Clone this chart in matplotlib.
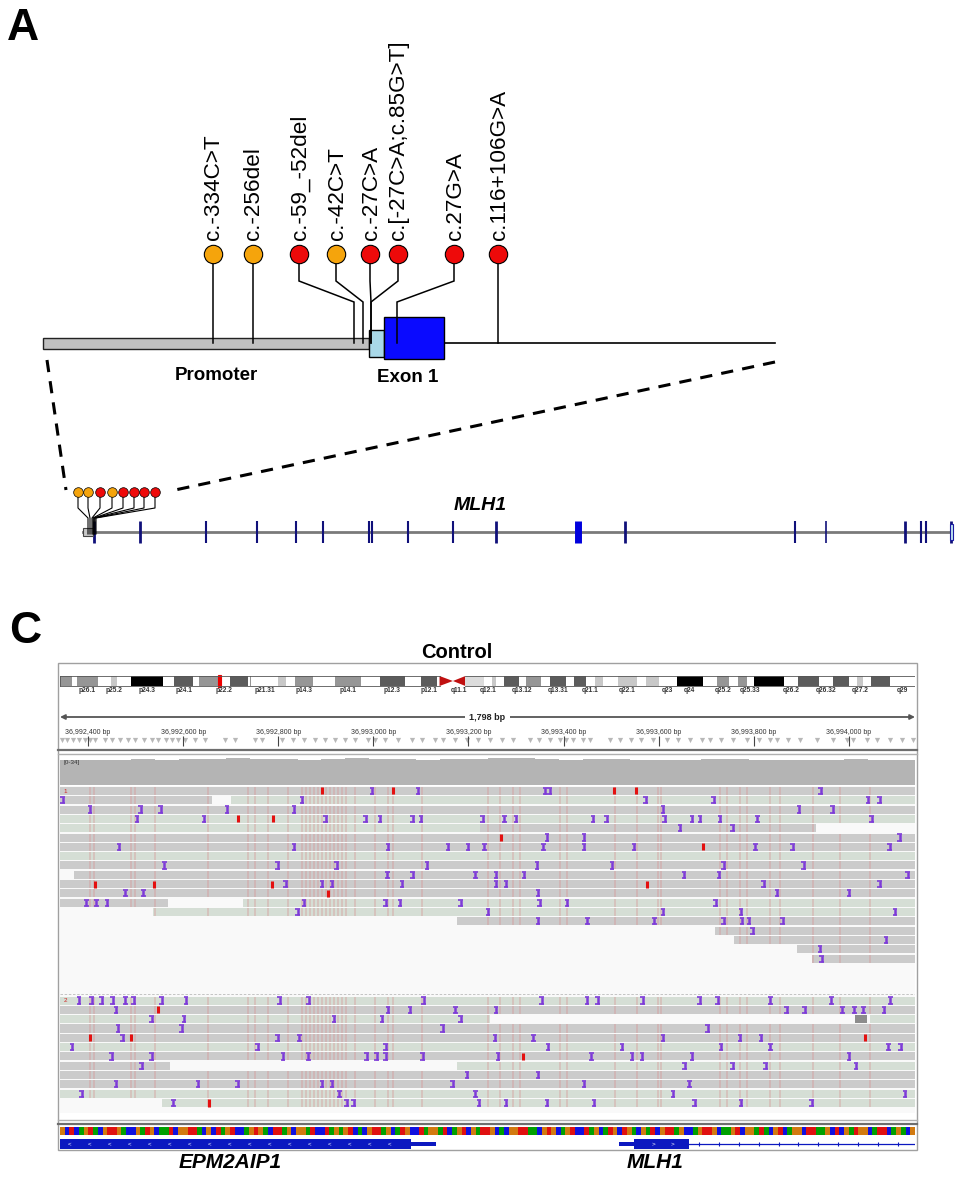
import matplotlib
matplotlib.use("Agg")
import matplotlib.pyplot as plt
from matplotlib.patches import Rectangle, Polygon
from matplotlib.lines import Line2D
import numpy as np

plt.rcParams['font.family'] = ['Liberation Sans', 'DejaVu Sans']

W, H = 975, 1200

# ---------------- panel A : variants around MLH1 promoter / exon 1 ----------------
variant_labels = ["c.-334C>T", "c.-256del", "c.-59_-52del", "c.-42C>T", "c.-27C>A",
                  "c.[-27C>A;c.85G>T]", "c.27G>A", "c.116+106G>A"]
variant_group = [1, 1, 2, 1, 2, 2, 2, 2]
variant_head = [213, 253, 299, 336, 370, 398, 454, 498]   # lollipop position (schematic units)
variant_site = [213, 253, 354, 363, 371, 371, 397, 498]   # position on the locus
group_colors = {1: "#f5a40c", 2: "#ee0a0a"}

promoter = (43, 369)
utr5 = (369, 384)
exon1 = (384, 444)
locus_end = 775

# whole MLH1 gene, schematic scale
mlh1_span = (83, 950)
mlh1_exons = [94, 140, 206, 257, 296, 323, 369, 372, 408, 453, 496, 578, 625, 795, 826, 905, 921, 926, 951]
mlh1_exon_len = [2, 2, 1.5, 1.5, 1.5, 1.5, 1.5, 1.5, 1.5, 1.5, 2, 5, 2, 1.5, 1.2, 2, 1.5, 1.5, 2]
mini_head = [78, 88, 100, 112, 123, 134, 144, 155]
mini_site = [88, 90, 92, 93, 94, 94, 95, 96]

# ---------------- panel C : IGV view (Control) ----------------
view_start = 36992341
view_len = 1798
tick_bp = [36992400, 36992600, 36992800, 36993000, 36993200,
           36993400, 36993600, 36993800, 36994000]

chr3_len = 198.02
band_names = ["p26.3", "p26.2", "p26.1", "p25.3", "p25.2", "p25.1", "p24.3", "p24.2", "p24.1",
              "p23", "p22.3", "p22.2", "p22.1", "p21.33", "p21.32", "p21.31", "p21.2", "p21.1",
              "p14.3", "p14.2", "p14.1", "p13", "p12.3", "p12.2", "p12.1", "p11.2", "p11.1",
              "q11.1", "q11.2", "q12.1", "q12.2", "q12.3", "q13.11", "q13.12", "q13.13", "q13.2",
              "q13.31", "q13.32", "q13.33", "q21.1", "q21.2", "q21.3", "q22.1", "q22.2", "q22.3",
              "q23", "q24", "q25.1", "q25.2", "q25.31", "q25.32", "q25.33", "q26.1", "q26.2",
              "q26.31", "q26.32", "q26.33", "q27.1", "q27.2", "q27.3", "q28", "q29"]
band_start = [0, 2.8, 4.0, 8.7, 11.8, 13.3, 16.4, 23.9, 26.4, 30.9, 32.1, 36.5, 39.3, 43.6,
              44.1, 44.2, 50.6, 52.3, 54.4, 58.6, 63.7, 69.8, 74.2, 79.8, 83.5, 87.2, 87.9,
              91.0, 93.9, 98.3, 100.0, 100.9, 102.8, 106.2, 107.9, 111.3, 113.5, 117.3, 119.0,
              121.9, 123.8, 125.8, 129.2, 133.7, 135.7, 138.7, 142.8, 148.9, 152.1, 155.0,
              157.0, 159.0, 160.7, 167.6, 170.9, 175.7, 179.0, 182.7, 184.5, 186.0, 187.9, 192.3]
band_stain = ["gpos50", "gneg", "gpos50", "gneg", "gpos25", "gneg", "gpos100", "gneg", "gpos75",
              "gneg", "gpos50", "gneg", "gpos75", "gneg", "gpos50", "gneg", "gpos25", "gneg",
              "gpos50", "gneg", "gpos50", "gneg", "gpos75", "gneg", "gpos75", "gneg", "acen",
              "acen", "gvar", "gneg", "gpos25", "gneg", "gpos75", "gneg", "gpos50", "gneg",
              "gpos75", "gneg", "gpos75", "gneg", "gpos25", "gneg", "gpos25", "gneg", "gpos25",
              "gneg", "gpos100", "gneg", "gpos50", "gneg", "gpos50", "gneg", "gpos100", "gneg",
              "gpos75", "gneg", "gpos75", "gneg", "gpos25", "gneg", "gpos75", "gneg"]
shown_bands = ["p26.1", "p25.2", "p24.3", "p24.1", "p22.2", "p21.31", "p14.3", "p14.1", "p12.3",
               "p12.1", "q11.1", "q12.1", "q13.12", "q13.31", "q21.1", "q22.1", "q23", "q24",
               "q25.2", "q25.33", "q26.2", "q26.32", "q27.2", "q29"]
current_pos_mb = 37.0

# grey feature triangles under the ruler (bp offset from view start)
feature_marks = [4, 15, 27, 40, 52, 63, 74, 95, 110, 126, 143, 158, 176, 193, 206, 222, 235,
                 248, 262, 284, 305, 347, 368, 410, 425, 467, 490, 513, 536, 557, 578, 599,
                 620, 648, 662, 683, 711, 740, 761, 788, 805, 830, 855, 880, 905, 929, 952,
                 988, 1008, 1030, 1051, 1065, 1079, 1100, 1114, 1156, 1177, 1200, 1222, 1247,
                 1276, 1300, 1325, 1350, 1367, 1390, 1415, 1445, 1470, 1493, 1507, 1530, 1556,
                 1592, 1625, 1655, 1667, 1697, 1718, 1745, 1770, 1794]

coverage = [31, 32, 32, 33, 32, 33, 33, 34, 33, 33, 32, 33, 34, 33, 33, 32, 33, 33,
            34, 34, 33, 32, 33, 33, 32, 31, 32, 33, 33, 32, 31, 32, 32, 33, 32, 31]
cov_max = 34

# reads: (row, start, end, kind) in bp offsets; kind g = grey, v = green-grey, d = dark
reads_g1 = [(0, 0, 1798, 'g'), (1, 0, 320, 'g'), (1, 359, 1798, 'v'), (2, 0, 1798, 'g'),
            (3, 0, 1798, 'v'), (4, 0, 883, 'v'), (4, 883, 1589, 'g'), (5, 0, 1798, 'g'),
            (6, 0, 1798, 'g'), (7, 0, 1798, 'v'), (8, 0, 1798, 'g'), (9, 29, 1798, 'g'),
            (10, 0, 1798, 'g'), (11, 0, 1798, 'g'), (12, 0, 227, 'g'), (12, 385, 1798, 'v'),
            (13, 196, 1798, 'v'), (14, 835, 1798, 'g'), (15, 1377, 1798, 'g'),
            (16, 1417, 1798, 'g'), (17, 1550, 1798, 'g'), (18, 1581, 1798, 'g')]
reads_g2 = [(0, 0, 1798, 'v'), (1, 0, 1798, 'g'), (2, 0, 904, 'v'), (2, 1671, 1698, 'd'),
            (2, 1703, 1798, 'v'), (3, 0, 1798, 'g'), (4, 0, 1798, 'g'), (5, 0, 1798, 'v'),
            (6, 0, 1798, 'g'), (7, 0, 231, 'g'), (7, 835, 1798, 'v'), (8, 0, 1798, 'g'),
            (9, 0, 1798, 'g'), (10, 0, 1798, 'v'), (11, 214, 1798, 'v')]

ins_g1 = {0: [656, 753, 1020, 1030, 1600],
          1: [6, 509, 1232, 1375, 1699, 1724],
          2: [63, 170, 212, 351, 492, 1268, 1554, 1625],
          3: [162, 303, 559, 643, 673, 742, 759, 889, 934, 959, 1121, 1150, 1272, 1329, 1346,
              1388, 1466, 1707],
          4: [1304, 1415],
          5: [1024, 1102, 1766],
          6: [124, 492, 690, 816, 858, 892, 1016, 1102, 1207, 1462, 1541, 1745],
          8: [219, 458, 582, 772, 1003, 1161, 1396, 1564],
          9: [688, 742, 873, 917, 976, 1312, 1386, 1783],
          10: [475, 551, 572, 719, 917, 938, 1480, 1724],
          11: [137, 175, 1005, 1508, 1659],
          12: [55, 76, 99, 513, 685, 715, 843, 1009, 1066, 1379],
          13: [500, 900, 1268, 1432, 1756],
          14: [1005, 1109, 1250, 1396, 1434, 1449, 1520],
          15: [1457], 16: [1737], 17: [1598], 18: [1602]}
ins_g2 = {0: [40, 67, 88, 111, 137, 155, 214, 265, 462, 523, 765, 1013, 1108, 1131, 1225,
              1345, 1383, 1494, 1622, 1746],
          1: [118, 690, 736, 831, 917, 1528, 1566, 1645, 1670, 1689, 1733],
          2: [193, 261, 576, 677, 843],
          3: [122, 256, 805, 1362],
          4: [132, 458, 503, 915, 995, 1268, 1430, 1474],
          5: [25, 416, 685, 1026, 1182, 1390, 1494, 1742, 1768],
          6: [109, 193, 469, 522, 645, 666, 685, 763, 921, 1117, 1203, 1224, 1329, 1659],
          7: [172, 1314, 1415, 1484, 1674],
          8: [856, 1005],
          9: [118, 290, 374, 551, 572, 826, 1102, 1323],
          10: [46, 587, 873, 1289, 1777],
          11: [238, 603, 618, 881, 938, 1024, 1123, 1335, 1432, 1581]}
red_g1 = {0: [551, 700, 1165, 1211], 3: [374, 448], 5: [927], 6: [1352],
          10: [74, 198, 446, 1234], 11: [563]}
red_g2 = {1: [206], 4: [63, 149, 1693], 6: [973], 11: [313]}

# faint mismatch columns (bp offsets)
mismatch_cols = [63, 71, 149, 158, 200, 311, 395, 410, 437, 479, 509, 517, 526, 534, 543, 551,
                 559, 568, 576, 585, 593, 601, 620, 662, 690, 700, 761, 900, 925, 952, 967,
                 1051, 1066, 1167, 1213, 1257, 1264, 1388, 1402, 1430, 1444, 1493, 1514, 1583,
                 1640, 1703]

ref_seq = ("GCTCAGTACGTTGACCGATGCAATCGGTTACGCTAGTCCAGTGACTTAGCGGATCCTAGAGTCACGTTAGCATGCC"
           "TAGGATCAGTCGATTGCACGGTTAACGTGCAGTCCTAGCATGCTGACGATCGTTAGCCAGTTGCAAGTCGGATACG"
           "TCAGGCTTAAGCTCGATGGCATTCAGACG")
base_colors = {'A': '#00a000', 'C': '#1010e0', 'G': '#d27a10', 'T': '#e01010'}

epm2aip1_thick = (0, 738)
epm2aip1_thin = (738, 790)
mlh1_thin = (1175, 1207)
mlh1_thick = (1207, 1323)
mlh1_intron = (1323, 1798)

# ---------------------------------------------------------------------------
fig = plt.figure(figsize=(W / 100, H / 100), dpi=100)


def px_axes(x0, y0, x1, y1):
    return fig.add_axes([x0 / W, 1 - y1 / H, (x1 - x0) / W, (y1 - y0) / H])


def fig_line(x0, y0, x1, y1, **kw):
    fig.add_artist(Line2D([x0 / W, x1 / W], [1 - y0 / H, 1 - y1 / H],
                          transform=fig.transFigure, **kw))


# ---- panel A ----
axA = px_axes(0, 0, W, 600)
axA.set_xlim(0, W)
axA.set_ylim(600, 0)
axA.axis('off')

axA.text(23, 29, "A", fontsize=32, weight='bold', ha='center', va='center')

axA.add_patch(Rectangle((promoter[0], 338), promoter[1] - promoter[0], 11,
                        facecolor='#c0c0c0', edgecolor='#222222', lw=1, zorder=1))
axA.plot([exon1[1], locus_end], [343, 343], color='black', lw=1.2, zorder=1)
axA.add_patch(Rectangle((utr5[0], 330), utr5[1] - utr5[0], 27,
                        facecolor='#a8d8e8', edgecolor='black', lw=1, zorder=1))
axA.add_patch(Rectangle((exon1[0], 317), exon1[1] - exon1[0], 42,
                        facecolor='#0a0aff', edgecolor='black', lw=1, zorder=1))

for head, site, grp, lab in zip(variant_head, variant_site, variant_group, variant_labels):
    axA.plot([head, head, site, site], [262, 281, 302, 343], color='black', lw=1.1,
             zorder=2, solid_joinstyle='miter')
    axA.scatter([head], [254], s=175, color=group_colors[grp], edgecolor='black',
                lw=0.8, zorder=3)
    axA.text(head + 1, 240, lab, rotation=90, ha='center', va='bottom', fontsize=16.2)

axA.text(216, 376, "Promoter", fontsize=13.5, weight='bold', ha='center', va='center')
axA.text(408, 378, "Exon 1", fontsize=13.5, weight='bold', ha='center', va='center')

# zoom dashed lines
axA.plot([47, 66], [360, 490], color='black', lw=2.2, ls=(0, (4, 3)))
axA.plot([775, 175], [362, 490], color='black', lw=2.2, ls=(0, (4, 3)))

# whole gene
axA.plot(mlh1_span, [532, 532], color='#7a7a7a', lw=2, zorder=1)
for ex, ln in zip(mlh1_exons, mlh1_exon_len):
    axA.plot([ex, ex], [521, 543], color='#10107a' if ln < 4 else '#0000dd',
             lw=ln * 1.0, solid_capstyle='butt', zorder=2)
axA.add_patch(Rectangle((mlh1_exons[-1] - 1, 524), 3, 16, facecolor='#bfe4f0',
                        edgecolor='#1a1aa0', lw=0.8, zorder=3))
axA.add_patch(Rectangle((mlh1_span[0], 528), 10, 8, facecolor='#c8c8c8',
                        edgecolor='#444444', lw=0.8, zorder=2))
for head, site, grp in zip(mini_head, mini_site, variant_group):
    axA.plot([head, head, site, site], [496, 508, 518, 534], color='black', lw=0.8, zorder=2)
    axA.scatter([head], [492], s=48, color=group_colors[grp], edgecolor='black',
                lw=0.5, zorder=3)
axA.text(480, 505, "MLH1", fontsize=14, weight='bold', style='italic', ha='center', va='center')

# ---- panel C ----
fig.text(25 / W, 1 - 632 / H, "C", fontsize=32, weight='bold', ha='center', va='center')
fig.text(457 / W, 1 - 653 / H, "Control", fontsize=14.5, weight='bold', ha='center', va='center')

fig.add_artist(Rectangle((58 / W, 1 - 1150 / H), (917 - 58) / W, (1150 - 663) / H,
                         transform=fig.transFigure, fill=False, edgecolor='#a0a0a0', lw=1))

# ideogram
axI = px_axes(60, 672, 915, 696)
axI.set_xlim(0, chr3_len)
axI.set_ylim(24, 0)
axI.axis('off')
stain_color = {'gneg': 'white', 'gpos25': '#c8c8c8', 'gpos50': '#969696', 'gpos75': '#5c5c5c',
               'gpos100': '#000000', 'gvar': '#dcdcdc', 'acen': '#c01010'}
band_end = band_start[1:] + [chr3_len]
for name, s, e, st in zip(band_names, band_start, band_end, band_stain):
    if st == 'acen':
        if name.startswith('p'):
            axI.add_patch(Polygon([[s, 4], [e, 9], [s, 14]], facecolor=stain_color[st],
                                  edgecolor='none'))
        else:
            axI.add_patch(Polygon([[e, 4], [s, 9], [e, 14]], facecolor=stain_color[st],
                                  edgecolor='none'))
    else:
        axI.add_patch(Rectangle((s, 4), e - s, 10, facecolor=stain_color[st],
                                edgecolor='none'))
    if name in shown_bands:
        axI.text((s + e) / 2, 19, name, fontsize=4.8, weight='bold', color='#333333',
                 ha='center', va='center')
cen_a, cen_b = band_start[band_names.index('p11.1')], band_start[band_names.index('q11.2')]
axI.plot([0, cen_a], [4, 4], color='#555555', lw=0.6)
axI.plot([0, cen_a], [14, 14], color='#555555', lw=0.6)
axI.plot([cen_b, chr3_len], [4, 4], color='#555555', lw=0.6)
axI.plot([cen_b, chr3_len], [14, 14], color='#555555', lw=0.6)
axI.plot([0, 0], [4, 14], color='#555555', lw=0.6)
axI.plot([chr3_len, chr3_len], [4, 14], color='#555555', lw=0.6)
axI.add_patch(Rectangle((current_pos_mb - 0.35, 3), 0.7, 12, facecolor='#ee0000',
                        edgecolor='#ee0000', lw=0.8))

# ruler
axU = px_axes(60, 700, 915, 748)
axU.set_xlim(0, view_len)
axU.set_ylim(48, 0)
axU.axis('off')
axU.annotate('', xy=(0, 17), xytext=(view_len, 17),
             arrowprops=dict(arrowstyle='<|-|>', color='#555555', lw=1.3, mutation_scale=7,
                             shrinkA=0, shrinkB=0))
axU.text(view_len / 2, 17, f"{view_len:,} bp", fontsize=6.5, weight='bold', color='#222222',
         ha='center', va='center', bbox=dict(facecolor='white', edgecolor='none', pad=3))
for t in tick_bp:
    axU.text(t - view_start, 32, f"{t:,} bp", fontsize=5, color='#333333',
             ha='center', va='center')
axU.scatter(feature_marks, [40] * len(feature_marks), marker='v', s=14, color='#a0a0a0',
            alpha=0.75, lw=0)
axU.vlines([t - view_start for t in tick_bp], 36, 46, color='#444444', lw=0.8)

fig_line(58, 750, 917, 750, color='#6e6e6e', lw=1.6)
fig_line(58, 754, 917, 754, color='#b0b0b0', lw=1.0)

# coverage
axC = px_axes(60, 758, 915, 785)
axC.set_xlim(0, view_len)
axC.set_ylim(0, cov_max)
axC.axis('off')
edges = np.linspace(0, view_len, len(coverage) + 1)
axC.stairs(coverage, edges, fill=True, color='#b4b4b4')
axC.text(8, cov_max - 2, f"[0-{cov_max}]", fontsize=4.5, color='#333333', va='top')

# reads
axR = px_axes(60, 786, 915, 1113)
axR.set_xlim(0, view_len)
g2_base = 22.5
axR.set_ylim(35.0, -0.1)
axR.set_facecolor('#f9f9f9')
axR.set_xticks([])
axR.set_yticks([])
for sp in axR.spines.values():
    sp.set_visible(False)

read_colors = {'g': '#cbcbcb', 'v': '#d5ded5', 'd': '#8c8c8c'}
row_h = 0.86
purple = '#7d3ad8'


def draw_group(reads, ins, reds, base):
    mx, my0, my1 = [], [], []
    for row, s, e, kind in reads:
        y = base + row
        axR.add_patch(Rectangle((s, y), e - s, row_h, facecolor=read_colors[kind],
                                edgecolor='none', zorder=1))
        for m in mismatch_cols:
            if s < m < e:
                mx.append(m)
                my0.append(y)
                my1.append(y + row_h)
    axR.vlines(mx, my0, my1, color='#d88a8a', alpha=0.35, lw=1.3, zorder=2)
    for row, xs in reds.items():
        y = base + row
        axR.vlines(xs, y + 0.05, y + 0.81, color='#e41010', lw=2.2, zorder=3)
    for row, xs in ins.items():
        y = base + row
        xs = np.array(xs)
        axR.vlines(xs, y + 0.1, y + 0.76, color=purple, lw=1.8, zorder=4)
        axR.hlines(np.full(len(xs), y + 0.1), xs - 5, xs + 5, color=purple, lw=1.2, zorder=4)
        axR.hlines(np.full(len(xs), y + 0.76), xs - 5, xs + 5, color=purple, lw=1.2, zorder=4)


draw_group(reads_g1, ins_g1, red_g1, 0)
draw_group(reads_g2, ins_g2, red_g2, g2_base)
axR.axhline(g2_base - 0.3, color='#bbbbbb', lw=0.6, ls=(0, (3, 2)))
axR.text(8, 0.45, "1", fontsize=4.5, color='#d02020', va='center', zorder=5)
axR.text(8, g2_base + 0.45, "2", fontsize=4.5, color='#d02020', va='center', zorder=5)

fig_line(58, 1120, 917, 1120, color='#b0b0b0', lw=1.0)
fig_line(58, 1124, 917, 1124, color='#6e6e6e', lw=1.6)

# reference sequence
axS = px_axes(60, 1127, 915, 1135)
axS.set_xlim(0, view_len)
axS.set_ylim(0, 1)
axS.axis('off')
bw = view_len / len(ref_seq)
axS.bar(np.arange(len(ref_seq)) * bw, 1, width=bw, align='edge',
        color=[base_colors[b] for b in ref_seq], edgecolor='none')

# genes
axG = px_axes(60, 1138, 915, 1150)
axG.set_xlim(0, view_len)
axG.set_ylim(1, 0)
axG.axis('off')
gene_blue = '#0c18c0'
axG.add_patch(Rectangle((epm2aip1_thick[0], 0.08), epm2aip1_thick[1] - epm2aip1_thick[0], 0.84,
                        facecolor=gene_blue, edgecolor='none'))
axG.add_patch(Rectangle((epm2aip1_thin[0], 0.3), epm2aip1_thin[1] - epm2aip1_thin[0], 0.4,
                        facecolor=gene_blue, edgecolor='none'))
for c in np.arange(epm2aip1_thick[0] + 20, epm2aip1_thick[1] - 10, 42):
    axG.text(c, 0.5, "<", color='white', fontsize=4.5, ha='center', va='center')
axG.add_patch(Rectangle((mlh1_thin[0], 0.3), mlh1_thin[1] - mlh1_thin[0], 0.4,
                        facecolor=gene_blue, edgecolor='none'))
axG.add_patch(Rectangle((mlh1_thick[0], 0.08), mlh1_thick[1] - mlh1_thick[0], 0.84,
                        facecolor=gene_blue, edgecolor='none'))
for c in np.arange(mlh1_thick[0] + 40, mlh1_thick[1] - 10, 40):
    axG.text(c, 0.5, ">", color='white', fontsize=4.5, ha='center', va='center')
axG.plot(mlh1_intron, [0.5, 0.5], color=gene_blue, lw=0.9)
axG.vlines(np.arange(mlh1_intron[0] + 20, mlh1_intron[1], 42), 0.35, 0.65,
           color=gene_blue, lw=0.8)

fig.text(230 / W, 1 - 1163 / H, "EPM2AIP1", fontsize=15, weight='bold', style='italic',
         ha='center', va='center')
fig.text(655 / W, 1 - 1163 / H, "MLH1", fontsize=15, weight='bold', style='italic',
         ha='center', va='center')

fig.savefig("out.png", dpi=100, facecolor='white')
